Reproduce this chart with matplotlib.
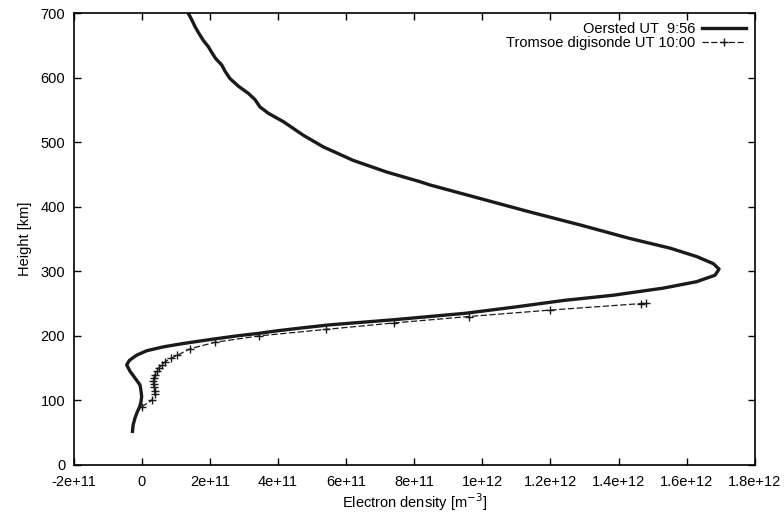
import numpy as np
import matplotlib
matplotlib.use("Agg")
import matplotlib.pyplot as plt

plt.rcParams['font.family'] = ['Liberation Sans', 'DejaVu Sans']

# ---------------- DATA ----------------
# Oersted profile (height in km, electron density in m^-3)
oersted_h = [52, 62, 72, 82, 90, 98, 106, 115, 124, 135, 145, 155, 162, 170,
             177, 183, 188, 195, 200, 204, 208, 212, 217, 225, 235, 245, 255,
             263, 274, 284, 294, 303.5, 312, 323, 336, 351, 372, 392, 413,
             434, 439, 454, 472, 493, 511, 532, 545, 555, 566, 576, 587,
             599, 610, 620, 630, 640, 648, 658, 668, 679, 690, 700]
oersted_n = [-2.7e10, -2.5e10, -2.0e10, -1.3e10, -6e9, -2e9, 0, -2e9, -5e9,
             -2.0e10, -3.4e10, -4.4e10, -3.6e10, -1.5e10, 1.5e10, 6.4e10,
             1.2e11, 2.1e11, 2.8e11, 3.45e11, 4.0e11, 4.65e11, 5.5e11,
             7.4e11, 9.5e11, 1.1e12, 1.24e12, 1.384e12, 1.531e12, 1.629e12,
             1.683e12, 1.695e12, 1.678e12, 1.629e12, 1.551e12, 1.433e12,
             1.287e12, 1.14e12, 9.93e11, 8.46e11, 8.17e11, 7.19e11, 6.21e11,
             5.33e11, 4.745e11, 4.16e11, 3.72e11, 3.47e11, 3.33e11, 3.13e11,
             2.84e11, 2.59e11, 2.45e11, 2.35e11, 2.17e11, 2.05e11, 1.96e11,
             1.81e11, 1.69e11, 1.57e11, 1.47e11, 1.37e11]

# Tromsoe digisonde profile
tromso_h = [90, 100, 110, 115, 120, 125, 130, 135, 140, 145, 150, 155, 160,
            165, 170, 180, 190, 200, 210, 220, 230, 240, 250, 251]
tromso_n = [0, 2.9e10, 3.9e10, 3.8e10, 3.6e10, 3.5e10, 3.4e10, 3.6e10,
            3.9e10, 4.4e10, 5.0e10, 5.9e10, 6.9e10, 8.5e10, 1.05e11,
            1.42e11, 2.15e11, 3.45e11, 5.4e11, 7.4e11, 9.6e11, 1.2e12,
            1.465e12, 1.48e12]

x_ticks = [-2e11, 0, 2e11, 4e11, 6e11, 8e11, 1e12, 1.2e12, 1.4e12, 1.6e12, 1.8e12]
x_tick_labels = ["-2e+11", "0", "2e+11", "4e+11", "6e+11", "8e+11", "1e+12",
                 "1.2e+12", "1.4e+12", "1.6e+12", "1.8e+12"]
y_ticks = [0, 100, 200, 300, 400, 500, 600, 700]

# ---------------- PLOT ----------------
fig = plt.figure(figsize=(7.84, 5.12), dpi=100)
ax = fig.add_axes([0.0938, 0.092, 0.869, 0.882])

ax.plot(oersted_n, oersted_h, color='#1a1a1a', linewidth=2.4,
        solid_joinstyle='round', label='Oersted UT  9:56')
ax.plot(tromso_n, tromso_h, color='#1a1a1a', linewidth=0.9, linestyle=(0, (5, 2)),
        marker='+', markersize=6, markeredgewidth=1.0,
        label='Tromsoe digisonde UT 10:00')

ax.set_xlim(-2e11, 1.8e12)
ax.set_ylim(0, 700)
ax.set_xticks(x_ticks)
ax.set_xticklabels(x_tick_labels)
ax.set_yticks(y_ticks)
ax.tick_params(direction='in', length=5, width=1, top=True, right=True,
               labelsize=10.5)
ax.tick_params(axis='x', pad=7)
ax.tick_params(axis='y', pad=6)
for s in ax.spines.values():
    s.set_linewidth(1.2)

ax.set_xlabel(r"Electron density [m$^{-3}$]", fontsize=10.5, labelpad=2)
ax.set_ylabel("Height [km]", fontsize=10.5, labelpad=6)

ax.legend(loc='upper right', frameon=False, markerfirst=False, fontsize=10.5,
          handlelength=3.0, handletextpad=0.5, borderaxespad=0.2,
          labelspacing=0.0)

plt.savefig("out.png", dpi=100)
